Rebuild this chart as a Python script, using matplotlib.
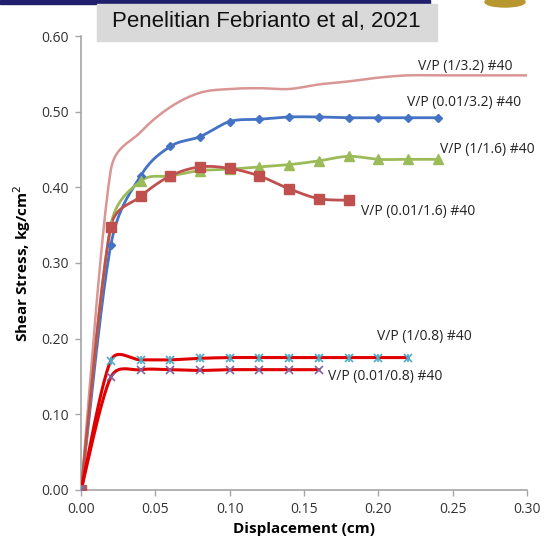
import matplotlib.pyplot as plt
from matplotlib.patches import Rectangle, Ellipse
import numpy as np

# displacement (cm) at each reading
x_all = [0.00, 0.02, 0.04, 0.06, 0.08, 0.10, 0.12, 0.14, 0.16, 0.18, 0.20, 0.22, 0.24]

# shear stress (kg/cm2) per test
vp_1_32 = [0.000, 0.423, 0.473, 0.506, 0.525, 0.530, 0.531, 0.530, 0.536, 0.540, 0.545, 0.548, 0.548, 0.548]
x_1_32 = x_all + [0.30]
vp_001_32 = [0.000, 0.324, 0.415, 0.454, 0.467, 0.487, 0.490, 0.493, 0.493, 0.492, 0.492, 0.492, 0.492]
vp_1_16 = [0.000, 0.350, 0.408, 0.415, 0.422, 0.424, 0.427, 0.430, 0.435, 0.441, 0.437, 0.437, 0.437]
vp_001_16 = [0.000, 0.348, 0.388, 0.415, 0.427, 0.425, 0.415, 0.398, 0.385, 0.383]
vp_1_08 = [0.000, 0.171, 0.172, 0.172, 0.174, 0.175, 0.175, 0.175, 0.175, 0.175, 0.175, 0.175]
vp_001_08 = [0.000, 0.149, 0.159, 0.159, 0.158, 0.159, 0.159, 0.159, 0.159]

labels = ['V/P (1/3.2) #40', 'V/P (0.01/3.2) #40', 'V/P (1/1.6) #40',
          'V/P (0.01/1.6) #40', 'V/P (1/0.8) #40', 'V/P (0.01/0.8) #40']


def smooth(xs, ys, n=24, sx=1487.0, sy=755.0, clamp=0.5):
    """Excel-like smoothed line: cubic Bezier through the points,
    control arms limited relative to segment length (in pixel space)"""
    p = np.column_stack([np.asarray(xs, float) * sx, np.asarray(ys, float) * sy])
    m = len(p)
    tang = np.zeros_like(p)
    for i in range(m):
        a = p[max(i - 1, 0)]
        b = p[min(i + 1, m - 1)]
        tang[i] = (b - a) / 2.0
    t = np.linspace(0, 1, n)[:, None]
    pts = []
    for i in range(m - 1):
        p1, p2 = p[i], p[i + 1]
        seg = np.hypot(*(p2 - p1))
        arms = []
        for tv in (tang[i], tang[i + 1]):
            arm = tv / 3.0
            ln = np.hypot(*arm)
            if ln > clamp * seg and ln > 0:
                arm = arm * (clamp * seg / ln)
            arms.append(arm)
        c1 = p1 + arms[0]
        c2 = p2 - arms[1]
        b = ((1 - t) ** 3) * p1 + 3 * ((1 - t) ** 2) * t * c1 \
            + 3 * (1 - t) * t ** 2 * c2 + t ** 3 * p2
        pts.append(b if i == 0 else b[1:])
    pts = np.vstack(pts)
    return pts[:, 0] / sx, pts[:, 1] / sy


fig = plt.figure(figsize=(5.48, 5.44), dpi=100)
ax = fig.add_axes([0.148, 0.0993, 0.8137, 0.8345])

font = 'Open Sans'

# pink line, no markers
sx, sy = smooth(x_1_32, vp_1_32)
ax.plot(sx, sy, color='#D99694', lw=1.8, zorder=3)

# blue diamonds
sx, sy = smooth(x_all, vp_001_32)
ax.plot(sx, sy, color='#4472C4', lw=2, zorder=4)
ax.plot(x_all, vp_001_32, ls='none', marker='D', ms=4.5, color='#4472C4', zorder=5)

# green triangles
sx, sy = smooth(x_all, vp_1_16)
ax.plot(sx, sy, color='#9BBB59', lw=2, zorder=4)
ax.plot(x_all, vp_1_16, ls='none', marker='^', ms=7, color='#9BBB59', zorder=5)

# red squares
n = len(vp_001_16)
sx, sy = smooth(x_all[:n], vp_001_16)
ax.plot(sx, sy, color='#C0504D', lw=2, zorder=4)
ax.plot(x_all[:n], vp_001_16, ls='none', marker='s', ms=7, color='#C0504D', zorder=5)

# low-stress pair: red lines with x markers
n = len(vp_1_08)
sx, sy = smooth(x_all[:n], vp_1_08)
ax.plot(sx, sy, color='#E00000', lw=2.2, zorder=4)
ax.plot(x_all[:n], vp_1_08, ls='none', marker='x', ms=6, mew=1.2, color='#4BACC6', zorder=5)
ax.plot(x_all[:n], vp_1_08, ls='none', marker='|', ms=6, mew=1.2, color='#4BACC6', zorder=5)

n = len(vp_001_08)
sx, sy = smooth(x_all[:n], vp_001_08)
ax.plot(sx, sy, color='#E00000', lw=2.2, zorder=4)
ax.plot(x_all[:n], vp_001_08, ls='none', marker='x', ms=6, mew=1.2, color='#8064A2', zorder=5)

# series labels
label_pos = [(0.2266, 0.560), (0.219, 0.5126), (0.2414, 0.450),
             (0.188, 0.368), (0.199, 0.2026), (0.166, 0.1497)]
for text, (lx, ly) in zip(labels, label_pos):
    ax.text(lx, ly, text, ha='left', va='center', fontsize=10,
            family=font, color='#222222', zorder=6)

ax.set_xlim(0, 0.30)
ax.set_ylim(0, 0.60)
ax.set_xticks(np.arange(0, 0.301, 0.05))
ax.set_yticks(np.arange(0, 0.601, 0.10))
ax.xaxis.set_major_formatter(plt.FormatStrFormatter('%.2f'))
ax.yaxis.set_major_formatter(plt.FormatStrFormatter('%.2f'))
for lab in ax.get_xticklabels() + ax.get_yticklabels():
    lab.set_family(font)
    lab.set_fontsize(10)
    lab.set_color('#333333')
ax.tick_params(direction='out', length=4, color='#A6A6A6', width=1, pad=5)
for side in ('top', 'right'):
    ax.spines[side].set_visible(False)
for side in ('left', 'bottom'):
    ax.spines[side].set_color('#A6A6A6')
    ax.spines[side].set_linewidth(1.2)

ax.set_xlabel('Displacement (cm)', fontsize=11, fontweight='bold', family=font, labelpad=3)
ax.set_ylabel('Shear Stress, kg/cm$^2$', fontsize=11, fontweight='bold', family=font, labelpad=6)

# slide decorations: top bar, title box, logo
fig.patches.append(Rectangle((0, 1 - 4 / 544), 430 / 548, 4 / 544,
                             transform=fig.transFigure, color='#1F1F6B', zorder=0))
fig.patches.append(Rectangle((97 / 548, 1 - 41 / 544), 340 / 548, 37 / 544,
                             transform=fig.transFigure, color='#D9D9D9', zorder=0))
fig.text(266 / 548, 1 - 22 / 544, 'Penelitian Febrianto et al, 2021', ha='center',
         va='center', fontsize=16, family='Liberation Sans', color='#111111')
fig.patches.append(Ellipse((505 / 548, 1 - 2 / 544), 40 / 548, 10 / 544,
                           transform=fig.transFigure, color='#B8972E', zorder=0))

fig.savefig('out.png', dpi=100)
